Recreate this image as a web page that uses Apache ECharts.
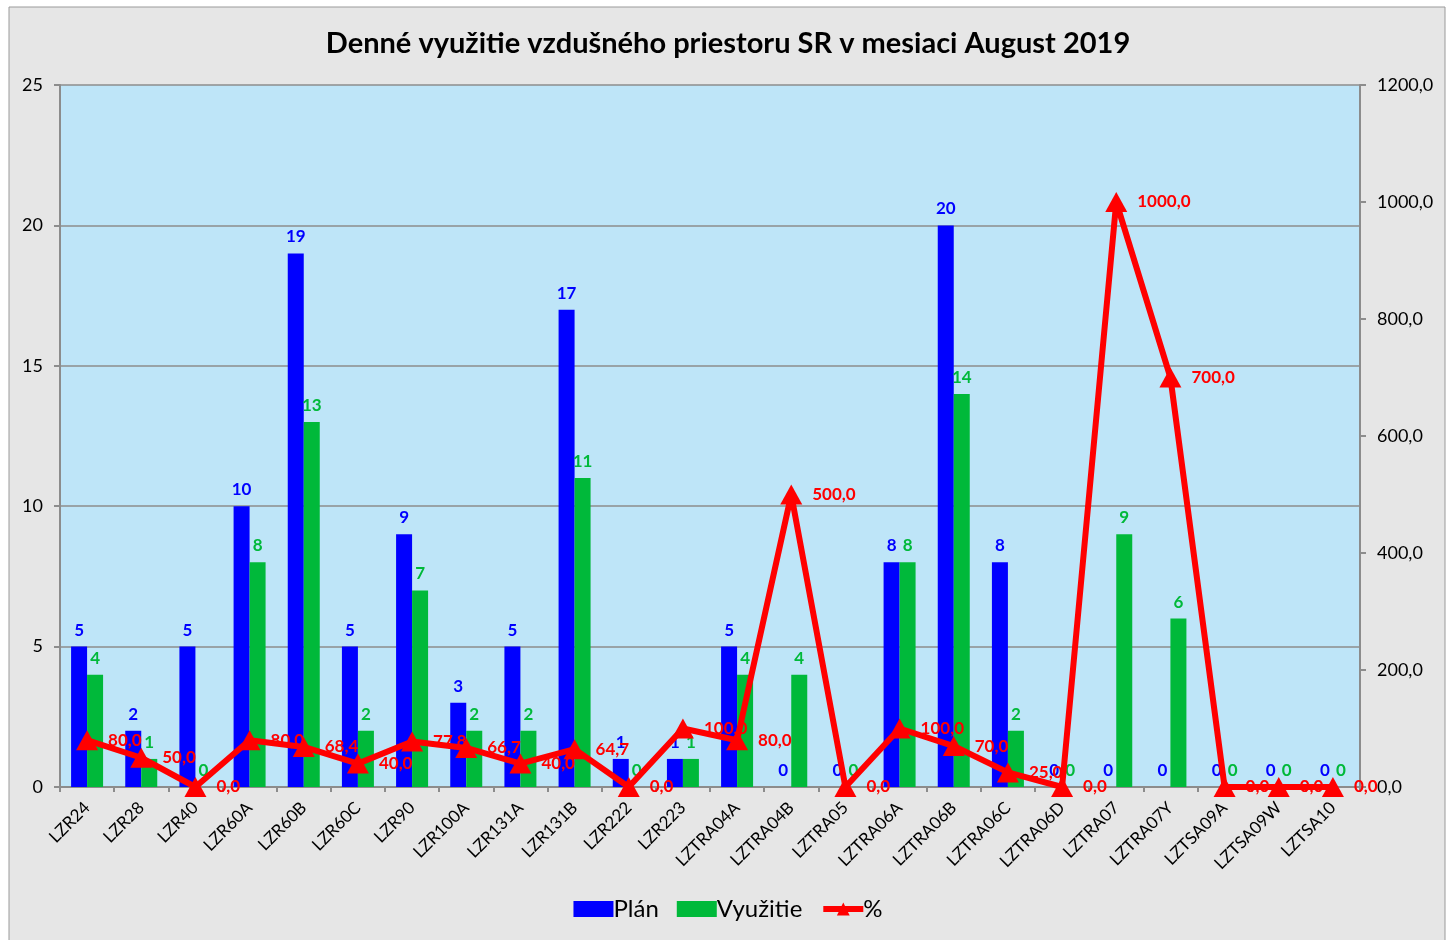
<!DOCTYPE html>
<html>
<head>
<meta charset="utf-8">
<script src="https://cdn.jsdelivr.net/npm/echarts@6/dist/echarts.min.js"></script>
<style>
  html, body { margin: 0; padding: 0; background: #ffffff; }
  #chart { width: 1456px; height: 940px; }
</style>
</head>
<body>
<div id="chart"></div>
<script>
// kategorie (sektory)
var categories = ['LZR24', 'LZR28', 'LZR40', 'LZR60A', 'LZR60B', 'LZR60C', 'LZR90', 'LZR100A',
  'LZR131A', 'LZR131B', 'LZR222', 'LZR223', 'LZTRA04A', 'LZTRA04B', 'LZTRA05', 'LZTRA06A',
  'LZTRA06B', 'LZTRA06C', 'LZTRA06D', 'LZTRA07', 'LZTRA07Y', 'LZTSA09A', 'LZTSA09W', 'LZTSA10'];
var plan = [5, 2, 5, 10, 19, 5, 9, 3, 5, 17, 1, 1, 5, 0, 0, 8, 20, 8, 0, 0, 0, 0, 0, 0];
var vyuzitie = [4, 1, 0, 8, 13, 2, 7, 2, 2, 11, 0, 1, 4, 4, 0, 8, 14, 2, 0, 9, 6, 0, 0, 0];
var percent = [80, 50, 0, 80, 68.4, 40, 77.8, 66.7, 40, 64.7, 0, 100, 80, 500, 0, 100, 70, 25, 0, 1000, 700, 0, 0, 0];

var fontName = 'Lato, "Open Sans", sans-serif';

function comma(v) {
  return Number(v).toFixed(1).replace('.', ',');
}

var myChart = echarts.init(document.getElementById('chart'));
var option = {
  backgroundColor: '#ffffff',
  animation: false,
  textStyle: { fontFamily: fontName },
  graphic: [{
    type: 'rect',
    z: -10,
    shape: { x: 9, y: 7, width: 1436, height: 945 },
    style: { fill: '#e6e6e6', stroke: '#9a9a9a', lineWidth: 1 }
  }],
  title: {
    text: 'Denné využitie vzdušného priestoru SR v mesiaci August 2019',
    left: 'center',
    top: 24,
    textStyle: { fontSize: 29, fontWeight: 'bold', color: '#000', fontFamily: fontName }
  },
  legend: {
    bottom: 14,
    left: 'center',
    itemWidth: 40,
    itemHeight: 16,
    itemGap: 18,
    textStyle: { fontSize: 24, color: '#000', fontFamily: fontName, padding: [0, 0, 0, -5] },
    data: [
      { name: 'Plán', icon: 'rect' },
      { name: 'Využitie', icon: 'rect' },
      { name: '%', lineStyle: { width: 6, color: '#ff0000' } }
    ]
  },
  grid: {
    left: 60,
    right: 96,
    top: 85,
    bottom: 153,
    show: true,
    backgroundColor: '#bee5f8',
    borderWidth: 0
  },
  xAxis: {
    type: 'category',
    data: categories,
    axisLine: { lineStyle: { color: '#8c8c8c', width: 2 } },
    axisTick: { show: true, length: 5, lineStyle: { color: '#8c8c8c', width: 2 } },
    axisLabel: { rotate: 45, color: '#000', fontSize: 17, margin: 18, fontFamily: fontName }
  },
  yAxis: [{
    type: 'value',
    min: 0,
    max: 25,
    interval: 5,
    axisLine: { show: true, lineStyle: { color: '#8c8c8c', width: 2 } },
    axisTick: { show: true, length: 6, lineStyle: { color: '#8c8c8c', width: 2 } },
    axisLabel: { color: '#000', fontSize: 18, margin: 17, fontFamily: fontName },
    splitLine: { lineStyle: { color: '#8c8c8c', width: 1.5 } }
  }, {
    type: 'value',
    min: 0,
    max: 1200,
    interval: 200,
    position: 'right',
    axisLine: { show: true, lineStyle: { color: '#8c8c8c', width: 2 } },
    axisTick: { show: true, length: 6, lineStyle: { color: '#8c8c8c', width: 2 } },
    axisLabel: { color: '#000', fontSize: 18, margin: 17, fontFamily: fontName,
      formatter: function (v) { return comma(v); } },
    splitLine: { show: false }
  }],
  series: [{
    name: 'Plán',
    type: 'bar',
    data: plan,
    barWidth: 16,
    barGap: '0%',
    itemStyle: { color: '#0000ff' },
    label: { show: true, position: 'top', color: '#0000ff', fontWeight: 'bold', fontSize: 17, distance: 8 }
  }, {
    name: 'Využitie',
    type: 'bar',
    data: vyuzitie,
    barWidth: 16,
    itemStyle: { color: '#00b93a' },
    label: { show: true, position: 'top', color: '#00b93a', fontWeight: 'bold', fontSize: 17, distance: 8 }
  }, {
    name: '%',
    type: 'line',
    yAxisIndex: 1,
    data: percent,
    symbol: 'triangle',
    symbolSize: [22, 20],
    lineStyle: { color: '#ff0000', width: 6 },
    itemStyle: { color: '#ff0000' },
    label: {
      show: true,
      position: 'right',
      distance: 10,
      color: '#ff0000',
      fontWeight: 'bold',
      fontSize: 17,
      formatter: function (p) { return comma(p.value); }
    },
    z: 5
  }]
};
myChart.setOption(option);
</script>
</body>
</html>
